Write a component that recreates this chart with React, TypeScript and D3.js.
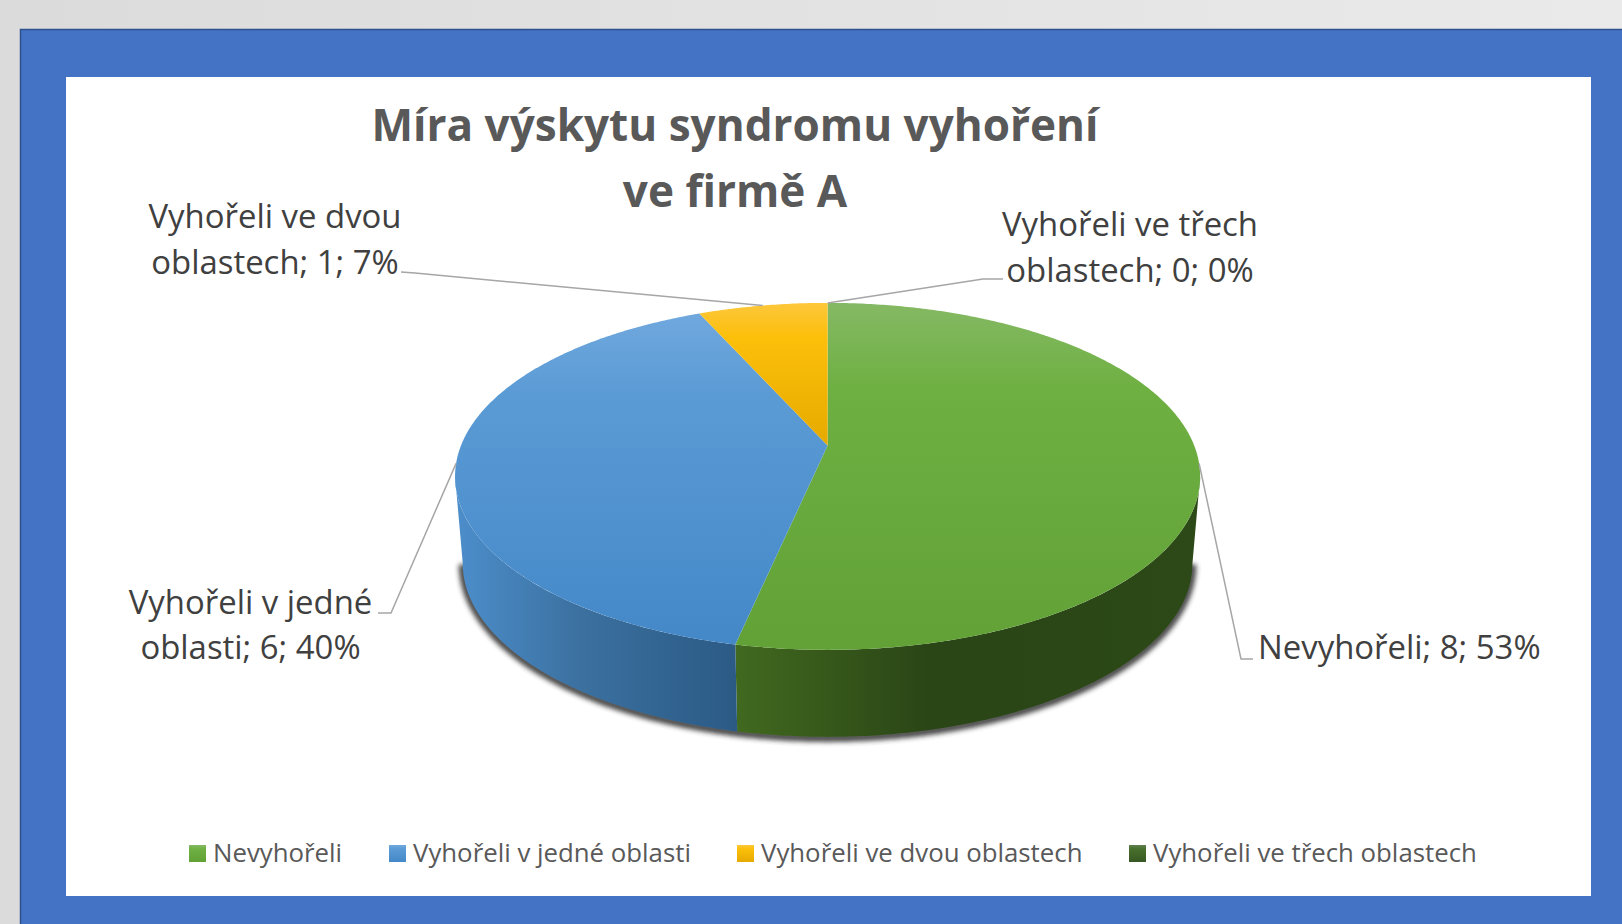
import React from "react";
import * as d3 from "d3";

const categories = ["Nevyhořeli", "Vyhořeli v jedné oblasti", "Vyhořeli ve dvou oblastech", "Vyhořeli ve třech oblastech"];
const values = [8, 6, 1, 0];
const labelLines = [
  ["Nevyhořeli; 8; 53%"],
  ["Vyhořeli v jedné", "oblasti; 6; 40%"],
  ["Vyhořeli ve dvou", "oblastech; 1; 7%"],
  ["Vyhořeli ve třech", "oblastech; 0; 0%"],
];
const titleLines = ["Míra výskytu syndromu vyhoření", "ve firmě A"];
const topStops = [
  ["#85b964", "#6fb043", "#61a136"],
  ["#70a8de", "#5b9bd5", "#4488c8"],
  ["#fdc73c", "#fcbf0a", "#e6aa00"],
  ["#5f8050", "#48702c", "#385723"],
];
const sideStops = [
  ["#41691f", "#2a4516", "#2c4917"],
  ["#4c8ecb", "#3b709f", "#2b5a85"],
];
const legendX = [189, 389, 737, 1129];
const legendTextX = [213, 413, 761, 1153];
const labelX = [1258, 250.5, 275, 1130];
const labelY = [[659], [614, 659], [228, 274], [236, 282]];
const leaderBend = [[1241, 659, 1253, 659], [391, 613, 378, 613], [415, 273, 401, 272], [983, 279, 1003, 279]];

const FONT = "'Open Sans', sans-serif";
const cx = 827.6, ay = 445.5, rx = 366.6, by = 168, k = 0.178;
const bottom = { cx: 827.6, ay: 532.5, rx: 359, by: 168 };

function project(a: number, c: { cx: number; ay: number; rx: number; by: number }) {
  const u = Math.sin(a), v = -Math.cos(a), s = 1 / (1 - k * v);
  return [c.cx + c.rx * u * s, c.ay + c.by * v * s];
}
const topC = { cx, ay, rx, by };
function arcPts(a0: number, a1: number, c: typeof topC) {
  const n = Math.max(2, Math.ceil(Math.abs(a1 - a0) / 0.01));
  return d3.range(n + 1).map((i) => project(a0 + ((a1 - a0) * i) / n, c));
}
const line = d3.line();
const arcs = d3.pie<number>().sort(null).startAngle(0).endAngle(2 * Math.PI)(values);
const tan = Math.acos(-k);
const sideRange = [
  [tan, arcs[0].endAngle],
  [arcs[0].endAngle, 2 * Math.PI - tan],
];

export default function App() {
  return (
    <svg width={1622} height={924} style={{ position: "absolute", left: 0, top: 0, display: "block" }} fontFamily={FONT}>
      <defs>
        <linearGradient id="bg" x1="0" y1="0" x2="1" y2="0">
          <stop offset="0" stopColor="#dbdbdb" />
          <stop offset="1" stopColor="#eaeaea" />
        </linearGradient>
        {arcs.map((d, i) => (
          <linearGradient id={`top${i}`} key={i} x1="0" y1="0" x2="0" y2="1">
            <stop offset="0" stopColor={topStops[i][0]} />
            <stop offset="0.24" stopColor={topStops[i][1]} />
            <stop offset="1" stopColor={topStops[i][2]} />
          </linearGradient>
        ))}
        {sideStops.map((s, i) => (
          <linearGradient id={`side${i}`} key={i} x1={i ? 1 : 0} y1="0" x2={i ? 0 : 1} y2="0">
            <stop offset="0" stopColor={i ? s[2] : s[0]} />
            <stop offset={i ? 0.55 : 0.42} stopColor={s[1]} />
            <stop offset="1" stopColor={i ? s[0] : s[2]} />
          </linearGradient>
        ))}
        <filter id="sh" x="-10%" y="-10%" width="120%" height="120%">
          <feGaussianBlur stdDeviation="2.8" />
        </filter>
      </defs>
      <rect width={1622} height={924} fill="url(#bg)" />
      <rect x={20.5} y={29.5} width={1610} height={900} fill="#4472c4" stroke="#2f528f" strokeWidth={1.5} />
      <rect x={66} y={77} width={1525} height={819} fill="#fff" />

      {titleLines.map((t, i) => (
        <text key={t} x={735} y={[141, 207][i]} textAnchor="middle" fontSize={44.1} fontWeight={700} fill="#595959">{t}</text>
      ))}

      <path
        d={line(arcPts(tan, 2 * Math.PI - tan, bottom))!}
        fill="none" stroke="#333" strokeWidth={8} opacity={0.9} filter="url(#sh)" transform="translate(0,1)"
      />
      {sideRange.map((r, i) => (
        <path key={i} fill={`url(#side${i})`}
          d={line([...arcPts(r[0], r[1], topC), ...arcPts(r[1], r[0], bottom)])! + "Z"} />
      ))}
      {arcs.filter((d) => d.value > 0).map((d) => (
        <path key={d.index} fill={`url(#top${d.index})`}
          d={line([[cx, ay], ...arcPts(d.startAngle, d.endAngle, topC)])! + "Z"} />
      ))}

      {arcs.map((d, i) => {
        const m = project((d.startAngle + d.endAngle) / 2, topC);
        const b = leaderBend[i];
        return <polyline key={i} fill="none" stroke="#a6a6a6" strokeWidth={1.5}
          points={`${m[0]},${m[1]} ${b[0]},${b[1]} ${b[2]},${b[3]}`} />;
      })}
      {labelLines.map((ls, i) => ls.map((t, j) => (
        <text key={t} x={labelX[i]} y={labelY[i][j]} textAnchor={i === 0 ? "start" : "middle"} fontSize={32.9} fill="#404040">{t}</text>
      )))}

      {categories.map((c, i) => (
        <g key={c}>
          <rect x={legendX[i]} y={845} width={17} height={17} fill={`url(#top${i})`} />
          <text x={legendTextX[i]} y={862} fontSize={25.8} fill="#595959">{c}</text>
        </g>
      ))}
    </svg>
  );
}
